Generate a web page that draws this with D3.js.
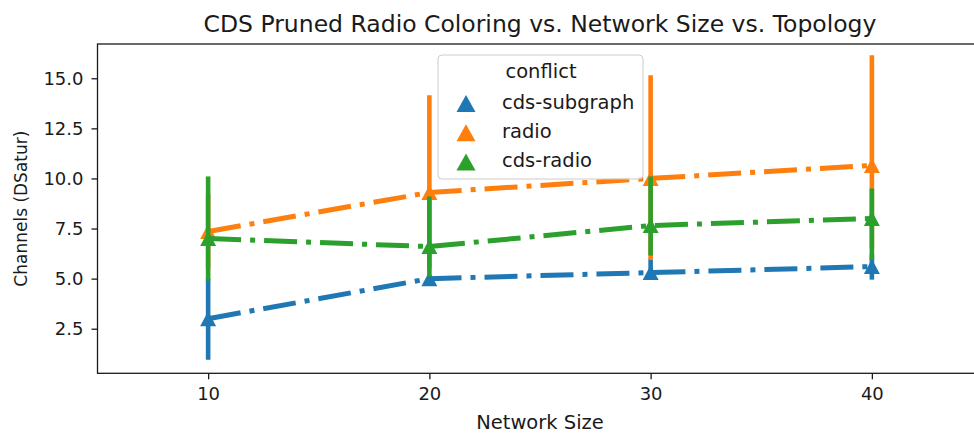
<!DOCTYPE html>
<html>
<head>
<meta charset="utf-8">
<script src="https://cdn.jsdelivr.net/npm/d3@7"></script>
<style>
  body { margin: 0; background: #fff; }
  svg { display: block; font-family: "DejaVu Sans", sans-serif; }
</style>
</head>
<body>
<svg id="chart" width="974" height="434"></svg>
<script>
// values
const sizes = [10, 20, 30, 40];
const conflicts = ['cds-subgraph', 'radio', 'cds-radio'];
const colors = ['#1f77b4', '#ff7f0e', '#2ca02c'];

const subgraphMean = [3.0, 5.0, 5.3, 5.6];
const subgraphLow = [0.95, 5.0, 4.95, 4.95];
const subgraphHigh = [5.0, 5.0, 6.0, 6.2];

const radioMean = [7.35, 9.3, 10.0, 10.65];
const radioLow = [5.5, 5.5, 5.93, 6.5];
const radioHigh = [9.2, 14.15, 15.15, 16.15];

const cdsRadioMean = [7.0, 6.6, 7.65, 8.0];
const cdsRadioLow = [4.9, 5.1, 6.15, 5.93];
const cdsRadioHigh = [10.1, 9.1, 10.1, 9.5];

const yTicks = [2.5, 5.0, 7.5, 10.0, 12.5, 15.0];

const series = [
    { name: conflicts[0], mean: subgraphMean, low: subgraphLow, high: subgraphHigh },
    { name: conflicts[1], mean: radioMean, low: radioLow, high: radioHigh },
    { name: conflicts[2], mean: cdsRadioMean, low: cdsRadioLow, high: cdsRadioHigh }
];

const svg = d3.select('#chart');

// axes box (right edge falls outside the picture, like the reference)
const plotLeft = 97.5, plotRight = 982.5, plotTop = 44, plotBottom = 373.3;

const x = d3.scalePoint()
    .domain(sizes)
    .range([plotLeft, plotRight])
    .padding(0.5);

const y = d3.scaleLinear()
    .domain([0.275, 16.71])
    .range([plotBottom, plotTop]);

const color = d3.scaleOrdinal().domain(conflicts).range(colors);

// triangle marker like matplotlib '^'
const triangle = (w, h) => `M0,${-h / 2}L${w / 2},${h / 2}L${-w / 2},${h / 2}Z`;

const plot = svg.append('g');

series.forEach(s => {
    const pts = sizes.map((d, i) => ({ size: d, mean: s.mean[i], low: s.low[i], high: s.high[i] }));

    plot.append('path')
        .datum(pts)
        .attr('fill', 'none')
        .attr('stroke', color(s.name))
        .attr('stroke-width', 5)
        .attr('stroke-dasharray', '33,9,5,9')
        .attr('d', d3.line().x(d => x(d.size)).y(d => y(d.mean)));

    plot.selectAll(null)
        .data(pts)
        .enter()
        .append('path')
        .attr('d', triangle(16, 15))
        .attr('transform', d => `translate(${x(d.size)},${y(d.mean)})`)
        .attr('fill', color(s.name));

    plot.selectAll(null)
        .data(pts)
        .enter()
        .append('line')
        .attr('x1', d => x(d.size))
        .attr('x2', d => x(d.size))
        .attr('y1', d => y(d.low))
        .attr('y2', d => y(d.high))
        .attr('stroke', color(s.name))
        .attr('stroke-width', 4.6);
});

// frame
svg.append('rect')
    .attr('x', plotLeft)
    .attr('y', plotTop)
    .attr('width', plotRight - plotLeft)
    .attr('height', plotBottom - plotTop)
    .attr('fill', 'none')
    .attr('stroke', '#1a1a1a')
    .attr('stroke-width', 1.3);

// axes
const xAxis = svg.append('g')
    .attr('transform', `translate(0,${plotBottom})`)
    .call(d3.axisBottom(x).tickSize(6).tickPadding(8));

const yAxis = svg.append('g')
    .attr('transform', `translate(${plotLeft},0)`)
    .call(d3.axisLeft(y).tickValues(yTicks).tickFormat(d3.format('.1f')).tickSize(6).tickPadding(8));

[xAxis, yAxis].forEach(g => {
    g.select('.domain').remove();
    g.selectAll('.tick line').attr('stroke', '#1a1a1a').attr('stroke-width', 1.3);
    g.selectAll('.tick text')
        .attr('fill', '#1a1a1a')
        .style('font-size', '18px')
        .style('font-family', '"DejaVu Sans", sans-serif');
});

// title and labels
svg.append('text')
    .attr('x', (plotLeft + plotRight) / 2)
    .attr('y', 32)
    .attr('text-anchor', 'middle')
    .attr('fill', '#1a1a1a')
    .style('font-size', '23.5px')
    .text('CDS Pruned Radio Coloring vs. Network Size vs. Topology');

svg.append('text')
    .attr('x', (plotLeft + plotRight) / 2)
    .attr('y', 429)
    .attr('text-anchor', 'middle')
    .attr('fill', '#1a1a1a')
    .style('font-size', '19.5px')
    .text('Network Size');

svg.append('text')
    .attr('transform', `translate(27,${(plotTop + plotBottom) / 2}) rotate(-90)`)
    .attr('text-anchor', 'middle')
    .attr('fill', '#1a1a1a')
    .style('font-size', '17px')
    .text('Channels (DSatur)');

// legend
const legend = svg.append('g').attr('transform', 'translate(438,55)');

legend.append('rect')
    .attr('width', 205)
    .attr('height', 124)
    .attr('rx', 4)
    .attr('fill', 'rgba(255,255,255,0.8)')
    .attr('stroke', '#cccccc')
    .attr('stroke-width', 1);

legend.append('text')
    .attr('x', 103)
    .attr('y', 23)
    .attr('text-anchor', 'middle')
    .attr('fill', '#1a1a1a')
    .style('font-size', '19.5px')
    .text('conflict');

const items = legend.selectAll('.item')
    .data(conflicts)
    .enter()
    .append('g')
    .attr('class', 'item')
    .attr('transform', (d, i) => `translate(0,${48.5 + i * 29.2})`);

items.append('path')
    .attr('d', triangle(19, 17))
    .attr('transform', 'translate(28,0)')
    .attr('fill', d => color(d));

items.append('text')
    .attr('x', 64)
    .attr('y', 5)
    .attr('fill', '#1a1a1a')
    .style('font-size', '19.5px')
    .text(d => d);
</script>
</body>
</html>
